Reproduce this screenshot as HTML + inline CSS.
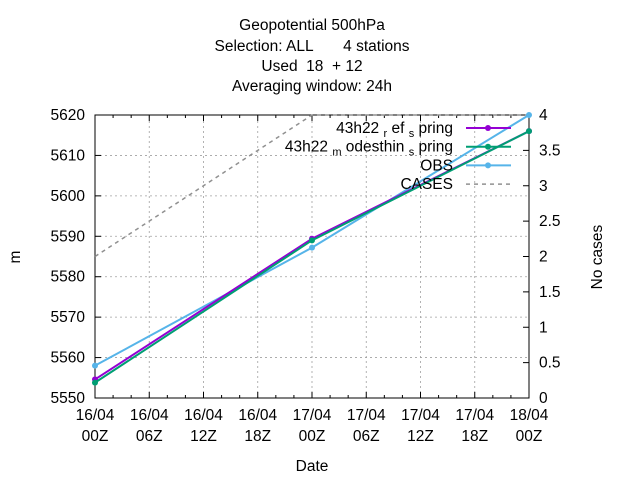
<!DOCTYPE html>
<html><head><meta charset="utf-8"><style>body{margin:0;background:#fff}svg{display:block;font-family:"Liberation Sans",sans-serif}</style></head>
<body>
<svg id="c" width="640" height="480" xmlns="http://www.w3.org/2000/svg">
<g font-size="15.5" text-anchor="middle" fill="#000" style="white-space:pre">
<text x="312" y="30">Geopotential 500hPa</text>
<text x="312" y="51" xml:space="preserve">Selection: ALL       4 stations</text>
<text x="312" y="71" xml:space="preserve">Used  18  + 12</text>
<text x="312" y="91">Averaging window: 24h</text>
</g>
<g id="grid"></g>
<g id="axes"></g>
<g id="series"></g>
<g id="legend"></g>
<text x="312" y="471" font-size="15.5" text-anchor="middle">Date</text>
<text x="20" y="257" font-size="15.5" text-anchor="middle" transform="rotate(-90 20 257)">m</text>
<text x="602" y="257" font-size="15.5" text-anchor="middle" transform="rotate(-90 602 257)">No cases</text>
</svg>
<script>
const hours=[0,24,48];
const refSpring=[5554.6,5589.4,5616];
const modSpring=[5553.8,5589,5616];
const obs=[5558,5587.2,5620];
const cases=[2,4,4];
const xTickLabels=[["16/04","00Z"],["16/04","06Z"],["16/04","12Z"],["16/04","18Z"],["17/04","00Z"],["17/04","06Z"],["17/04","12Z"],["17/04","18Z"],["18/04","00Z"]];
const yTicks=[5550,5560,5570,5580,5590,5600,5610,5620];
const y2Ticks=[0,0.5,1,1.5,2,2.5,3,3.5,4];
const X0=95,X1=529,Y0=398,Y1=115;
const sx=h=>X0+(X1-X0)*h/48;
const sy=v=>Y0-(Y0-Y1)*(v-5550)/70;
const sy2=v=>Y0-(Y0-Y1)*v/4;
const NS="http://www.w3.org/2000/svg";
const FS=15.5;
function mk(p,t,a){const e=document.createElementNS(NS,t);for(const k in a)e.setAttribute(k,a[k]);p.appendChild(e);return e;}
const grid=document.getElementById('grid'),axes=document.getElementById('axes'),ser=document.getElementById('series'),leg=document.getElementById('legend');
xTickLabels.forEach((l,i)=>{const x=sx(i*6);
 if(i>0&&i<8){const g=mk(grid,'line',{x1:x,x2:x,y1:Y0,y2:Y1,stroke:'#a0a0a0','stroke-width':0.8,'stroke-dasharray':'2,3'});}
 mk(axes,'line',{x1:x,x2:x,y1:Y0,y2:Y0-6,stroke:'#000'});mk(axes,'line',{x1:x,x2:x,y1:Y1,y2:Y1+6,stroke:'#000'});
 if(i<8)for(let m=1;m<3;m++){const xm=sx(i*6+m*2);mk(axes,'line',{x1:xm,x2:xm,y1:Y0,y2:Y0-3,stroke:'#000'});mk(axes,'line',{x1:xm,x2:xm,y1:Y1,y2:Y1+3,stroke:'#000'});}
 const t=mk(axes,'text',{x:x,y:Y0+22,'font-size':FS,'text-anchor':'middle'});t.textContent=l[0];
 
 const t2=mk(axes,'text',{x:x,y:Y0+43,'font-size':FS,'text-anchor':'middle'});t2.textContent=l[1];
 });
yTicks.forEach((v,i)=>{const y=sy(v);
 if(i>0&&i<yTicks.length-1){const g=mk(grid,'line',{x1:X0,x2:X1,y1:y,y2:y,stroke:'#a0a0a0','stroke-width':0.8,'stroke-dasharray':'2,3'});}
 mk(axes,'line',{x1:X0,x2:X0+6,y1:y,y2:y,stroke:'#000'});
 const t=mk(axes,'text',{x:X0-10,y:y+5,'font-size':FS,'text-anchor':'end'});t.textContent=v;
 });
y2Ticks.forEach(v=>{const y=sy2(v);mk(axes,'line',{x1:X1,x2:X1-6,y1:y,y2:y,stroke:'#000'});
 const t=mk(axes,'text',{x:X1+10,y:y+5,'font-size':FS});t.textContent=v;
 });
mk(axes,'rect',{x:X0,y:Y1,width:X1-X0,height:Y0-Y1,fill:'none',stroke:'#000'});
const cp=mk(ser,'polyline',{points:hours.map((h,i)=>sx(h)+','+sy2(cases[i])).join(' '),fill:'none',stroke:'#909090','stroke-width':1.5,'stroke-dasharray':'4,4'});

function series(vals,col,name){const p=mk(ser,'polyline',{points:hours.map((h,i)=>sx(h)+','+sy(vals[i])).join(' '),fill:'none',stroke:col,'stroke-width':2});
 
 hours.forEach((h,i)=>{const c=mk(ser,'circle',{cx:sx(h),cy:sy(vals[i]),r:3,fill:col});});}
series(obs,'#56b4e9','obs');series(refSpring,'#9400d3','ref-spring');series(modSpring,'#009e73','modesthin-spring');
const L=[['43h22 <tspan font-size="11" dy="4">r</tspan><tspan dy="-4"> ef </tspan><tspan font-size="11" dy="4">s</tspan><tspan dy="-4"> pring</tspan>','#9400d3',0],
['43h22 <tspan font-size="11" dy="4">m</tspan><tspan dy="-4"> odesthin </tspan><tspan font-size="11" dy="4">s</tspan><tspan dy="-4"> pring</tspan>','#009e73',0],
['OBS','#56b4e9',0],['CASES','#909090',1]];
L.forEach((l,i)=>{const y=128+i*18.7;const t=mk(leg,'text',{x:453,y:y+5,'font-size':FS,'text-anchor':'end'});t.innerHTML=l[0];
 
 const ln=mk(leg,'line',{x1:466,x2:511,y1:y,y2:y,stroke:l[1],'stroke-width':l[2]?1.5:2,'stroke-dasharray':l[2]?'4,4':''});
 
 if(!l[2])mk(leg,'circle',{cx:488,cy:y,r:3,fill:l[1]});});
</script>
</body></html>
